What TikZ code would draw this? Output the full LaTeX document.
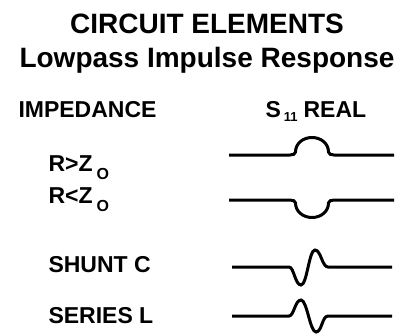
\documentclass[tikz,border=0pt]{standalone}
\usepackage{fontspec}
\setmainfont{Liberation Sans}
\usetikzlibrary{positioning}

\begin{document}
\begin{tikzpicture}[x=1pt, y=-1pt, line width=3pt,
  title/.style={font=\bfseries\fontsize{28}{30}\selectfont, inner sep=0pt, anchor=base},
  lbl/.style={font=\bfseries\fontsize{23}{25}\selectfont, inner sep=0pt, anchor=base west}]
  \useasboundingbox (0,0) rectangle (412,335);
  % --- titles ---
  \node[title] (t1) at (207,33) {CIRCUIT ELEMENTS};
  \node[title] (t2) at (207,67) {Lowpass Impulse Response};
  % --- column heads ---
  \node[lbl] (imp) at (17,117) {IMPEDANCE};
  \node[lbl] (s11) at (264,117) {S\hspace{3pt}\raisebox{-4pt}{\fontsize{13}{13}\selectfont 11}\hspace{6pt}REAL};
  % --- row labels ---
  \node[lbl] (rgt) at (47,171) {R>Z\hspace{4pt}\raisebox{-8pt}{\fontsize{16}{16}\selectfont O}};
  \node[lbl] (rlt) at (47,203) {R<Z\hspace{4pt}\raisebox{-8pt}{\fontsize{16}{16}\selectfont O}};
  \node[lbl] (shc) at (47,272) {SHUNT C};
  \node[lbl] (sel) at (47,323) {SERIES L};
  % --- R>Z_O ---
  \coordinate (w1a) at (229,155);
  \coordinate (w1b) at (394,155);
  \draw (w1a) -- (290,155) .. controls (293,155) and (295.5,154) .. (295.5,152)
    .. controls (295.5,143.5) and (303,137.5) .. (312,137.5)
    .. controls (321,137.5) and (328.5,143.5) .. (328.5,152)
    .. controls (328.5,154) and (331,155) .. (334,155) -- (w1b);
  % --- R<Z_O ---
  \coordinate (w2a) at (229,200);
  \coordinate (w2b) at (394,200);
  \draw (w2a) -- (290,200) .. controls (293,200) and (295.5,201) .. (295.5,203)
    .. controls (295.5,211.5) and (303,217.5) .. (312,217.5)
    .. controls (321,217.5) and (328.5,211.5) .. (328.5,203)
    .. controls (328.5,201) and (331,200) .. (334,200) -- (w2b);
  % --- shunt C ---
  \coordinate (w3a) at (232,267);
  \coordinate (w3b) at (392,267);
  \draw (w3a) -- (289,267) .. controls (294,267) and (295,285) .. (301,285)
    .. controls (307,285) and (309,250) .. (315,250)
    .. controls (321,250) and (322,267) .. (328,267) -- (w3b);
  % --- series L ---
  \coordinate (w4a) at (232,316);
  \coordinate (w4b) at (392,316);
  \draw (w4a) -- (289,316) .. controls (294,316) and (295,300) .. (301,300)
    .. controls (307,300) and (310,332) .. (316,332)
    .. controls (322,332) and (322,316) .. (328,316) -- (w4b);
\end{tikzpicture}
\end{document}
